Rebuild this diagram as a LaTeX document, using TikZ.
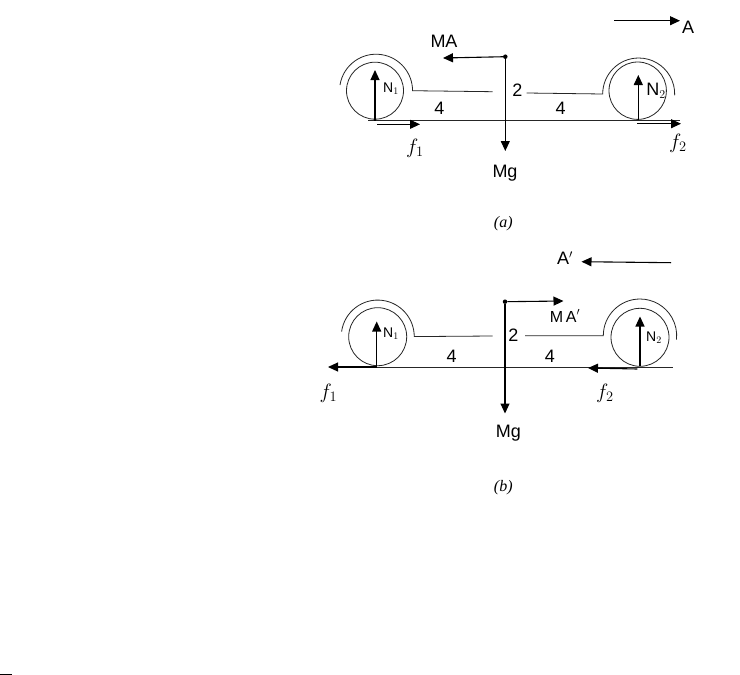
\documentclass[tikz,border=0pt]{standalone}
\usepackage{fontspec}
\setmainfont{Liberation Serif}
\newfontfamily\hand{Liberation Sans}
\usetikzlibrary{arrows.meta}
\tikzset{
  thin line/.style={line width=0.8pt,draw=black!85},
  force/.style={line width=1.1pt,draw=black,-{Triangle[length=10pt,width=9pt]}},
  wheel/.style={circle,draw=black!85,line width=0.8pt,inner sep=0pt,minimum size=#1},
  lab/.style={inner sep=0pt,font=\hand\fontsize{18}{18}\selectfont},
  small lab/.style={inner sep=0pt,font=\hand\fontsize{14}{14}\selectfont},
  mid lab/.style={inner sep=0pt,font=\hand\fontsize{16}{16}\selectfont},
  f lab/.style={inner sep=0pt,font=\fontsize{21}{21}\selectfont},
  cap lab/.style={inner sep=0pt,font=\itshape\fontsize{16}{16}\selectfont},
  dot/.style={circle,fill=black,inner sep=0pt,minimum size=4.5pt}
}
\begin{document}
\begin{tikzpicture}[x=1pt,y=-1pt]
\useasboundingbox (0,0) rectangle (740,675);
\fill[white] (0,0) rectangle (740,675);
\fill[black] (0,673.6) rectangle (12,675);
% ---------- panel (a)
\node[wheel=57pt] (wa1) at (375,90.7) {};
\node[wheel=57.4pt] (wa2) at (637.7,90.7) {};
\draw[thin line] (340,85) arc[start angle=189,end angle=360,radius=36.5] -- (492.7,91.7);
\draw[thin line] (526.7,93) -- (602.7,94) arc[start angle=180,end angle=362,radius=36];
\coordinate (aL) at (368,120.7); \coordinate (aR) at (680,120.7);
\draw[thin line] (aL) -- (aR);
\node[dot] (cgA) at (505.3,56.7) {};
\coordinate (mgA) at (505.3,151);
\coordinate (maA) at (443,58);
\coordinate (aS) at (614,20.7); \coordinate (aE) at (680,20.7);
\coordinate (n1aS) at (375,120.7); \coordinate (n1aE) at (375,70);
\coordinate (n2aS) at (638.3,119.5); \coordinate (n2aE) at (638.3,75);
\coordinate (f1aS) at (377,124.3); \coordinate (f1aE) at (420,124.3);
\coordinate (f2aS) at (637.3,123.7); \coordinate (f2aE) at (681,123.7);
\draw[force] (cgA) -- (mgA);
\draw[force] (cgA) -- (maA);
\draw[force] (aS) -- (aE);
\draw[force] (n1aS) -- (n1aE);
\draw[force] (n2aS) -- (n2aE);
\draw[force] (f1aS) -- (f1aE);
\draw[force] (f2aS) -- (f2aE);
\node[lab] (tMA) at (444,41.7) {MA};
\node[lab] (tA) at (688,27) {A};
\node[small lab] (tN1a) at (391,89) {N$_{1}$};
\node[lab] (tN2a) at (656,91) {N$_{2}$};
\node[lab] (t4a1) at (439.3,108) {4};
\node[lab] (t4a2) at (560.7,108) {4};
\node[lab] (t2a) at (517.3,90.7) {2};
\node[f lab] (tf1a) at (415,148) {$f_{1}$};
\node[f lab] (tf2a) at (678,143) {$f_{2}$};
\node[lab] (tMga) at (505,173) {Mg};
\node[cap lab] (capa) at (503.3,224) {(a)};
% ---------- panel (b)
\node[wheel=58pt] (wb1) at (377.7,336.7) {};
\node[wheel=58pt] (wb2) at (640,337.3) {};
\draw[thin line] (341.6,331.5) arc[start angle=188,end angle=360,radius=36.5] -- (492.7,336);
\draw[thin line] (525,335.7) -- (603.3,335.7) arc[start angle=180,end angle=366,radius=36.7];
\coordinate (bL) at (330,367); \coordinate (bR) at (673.3,367);
\draw[thin line] (bL) -- (bR);
\node[dot] (cgB) at (505,301.7) {};
\coordinate (mgB) at (505,413.5);
\coordinate (maB) at (563.5,301);
\coordinate (bS) at (671,262.7); \coordinate (bE) at (581.5,261.7);
\coordinate (n1bS) at (376.7,366); \coordinate (n1bE) at (376.7,321.5);
\coordinate (n2bS) at (640,366); \coordinate (n2bE) at (640,316.5);
\coordinate (f1bS) at (376.7,367); \coordinate (f1bE) at (328,367);
\coordinate (f2bS) at (637.3,369); \coordinate (f2bE) at (588,368);
\draw[force] (cgB) -- (mgB);
\draw[force] (cgB) -- (maB);
\draw[force] (bS) -- (bE);
\draw[force] (n1bS) -- (n1bE);
\draw[force] (n2bS) -- (n2bE);
\draw[force] (f1bS) -- (f1bE);
\draw[force] (f2bS) -- (f2bE);
\node[lab] (tAp) at (565,258) {A$'$};
\node[mid lab] (tMAp) at (565,316) {M\,A$'$};
\node[small lab] (tN1b) at (391,334) {N$_{1}$};
\node[small lab] (tN2b) at (654,338) {N$_{2}$};
\node[lab] (t4b1) at (451.7,356) {4};
\node[lab] (t4b2) at (550,356) {4};
\node[lab] (t2b) at (513.3,335) {2};
\node[f lab] (tf1b) at (328.3,393) {$f_{1}$};
\node[f lab] (tf2b) at (605,393) {$f_{2}$};
\node[lab] (tMgb) at (508.3,433) {Mg};
\node[cap lab] (capb) at (503.3,488) {(b)};
\end{tikzpicture}
\end{document}
